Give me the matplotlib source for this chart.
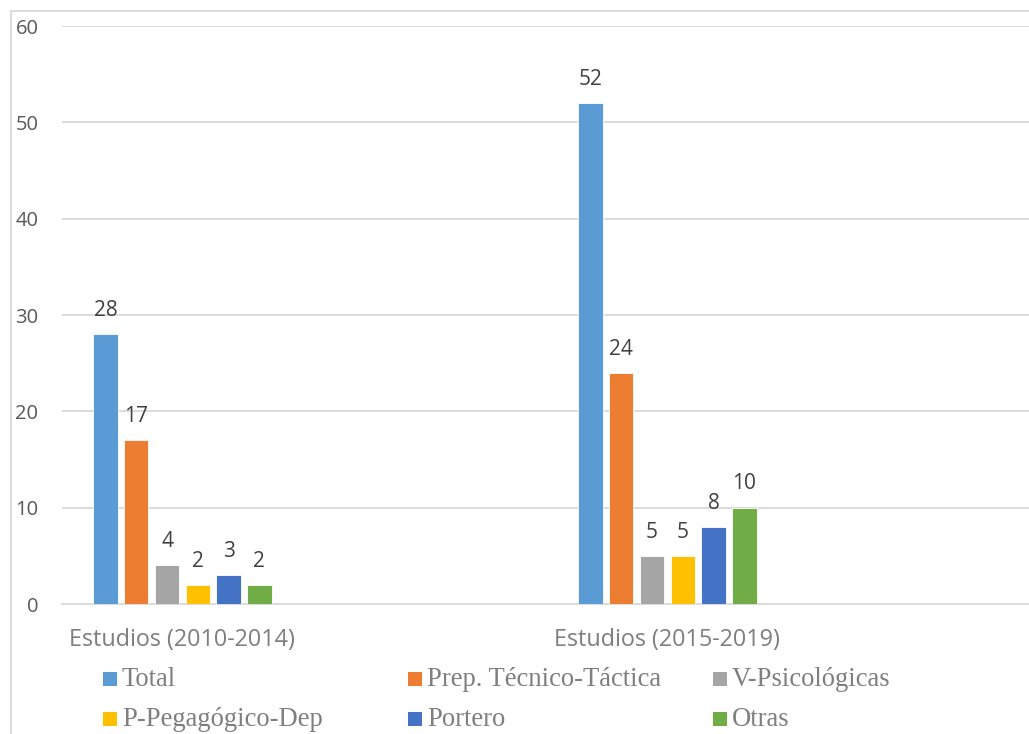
import matplotlib
matplotlib.use("Agg")
import matplotlib.pyplot as plt
from matplotlib.patches import Rectangle
from matplotlib.lines import Line2D

# Data
categories = ["Estudios (2010-2014)", "Estudios (2015-2019)"]
series = ["Total", "Prep. Técnico-Táctica", "V-Psicológicas",
          "P-Pegagógico-Dep", "Portero", "Otras"]
total = [28, 52]
prep_tecnico = [17, 24]
v_psicologicas = [4, 5]
p_pedagogico = [2, 5]
portero = [3, 8]
otras = [2, 10]
values = [total, prep_tecnico, v_psicologicas, p_pedagogico, portero, otras]
colors = ["#5B9BD5", "#ED7D31", "#A5A5A5", "#FFC000", "#4472C4", "#70AD47"]
yticks = [0, 10, 20, 30, 40, 50, 60]

W, H = 1029, 734
fig = plt.figure(figsize=(W / 100, H / 100), dpi=100)

def fx(px):
    return px / W

def fy(py):
    return 1 - py / H

# Chart area
ax_left, ax_right, ax_top, ax_bottom = 62, 1032, 26, 604
ax = fig.add_axes([fx(ax_left), fy(ax_bottom), fx(ax_right - ax_left),
                   (ax_bottom - ax_top) / H])
ax.set_xlim(0, 2)
ax.set_ylim(0, 60)

step = 0.0635
width = 0.0505
offset = 0.0895
for j, (vals, col) in enumerate(zip(values, colors)):
    xs = [i + offset + j * step for i in range(len(categories))]
    ax.bar(xs, vals, width=width, color=col, edgecolor="white",
           linewidth=0.6, zorder=3)
    for x, v in zip(xs, vals):
        ax.annotate(str(v), (x, v), xytext=(0, 9.5), textcoords="offset points",
                    ha="center", va="bottom", fontsize=15, color="#404040",
                    family="Open Sans")

ax.set_yticks(yticks)
ax.set_yticklabels([str(t) for t in yticks], fontsize=14.5, color="#595959",
                   family="Open Sans")
centers = [i + offset + 2.5 * step for i in range(len(categories))]
ax.set_xticks(centers)
ax.set_xticklabels(categories, fontsize=16.8, color="#7F7F7F", family="Open Sans")
ax.tick_params(axis="both", length=0)
ax.tick_params(axis="y", pad=17)
ax.tick_params(axis="x", pad=17)
ax.yaxis.grid(True, color="#D9D9D9", linewidth=1.3, zorder=0)
ax.set_axisbelow(True)
for s in ["top", "right", "left"]:
    ax.spines[s].set_visible(False)
ax.spines["bottom"].set_color("#D9D9D9")
ax.spines["bottom"].set_linewidth(1.3)

# Chart frame (left and top edges)
fig.add_artist(Line2D([fx(11), fx(11)], [fy(11), 0], color="#D9D9D9",
                      linewidth=1.3))
fig.add_artist(Line2D([fx(11), 1], [fy(11), fy(11)], color="#D9D9D9",
                      linewidth=1.3))

# Legend
col_x = [103, 408, 713]
row_y = [679, 719]
for k, (name, col) in enumerate(zip(series, colors)):
    r, c = divmod(k, 3)
    x0, yc = col_x[c], row_y[r]
    fig.add_artist(Rectangle((fx(x0), fy(yc + 7)), fx(14), 14 / H,
                             facecolor=col, edgecolor="none",
                             transform=fig.transFigure))
    fig.text(fx(x0 + 19), fy(yc), name, ha="left", va="center",
             fontsize=19.2, color="#7F7F7F", family="Liberation Serif")

fig.savefig("out.png", dpi=100)
